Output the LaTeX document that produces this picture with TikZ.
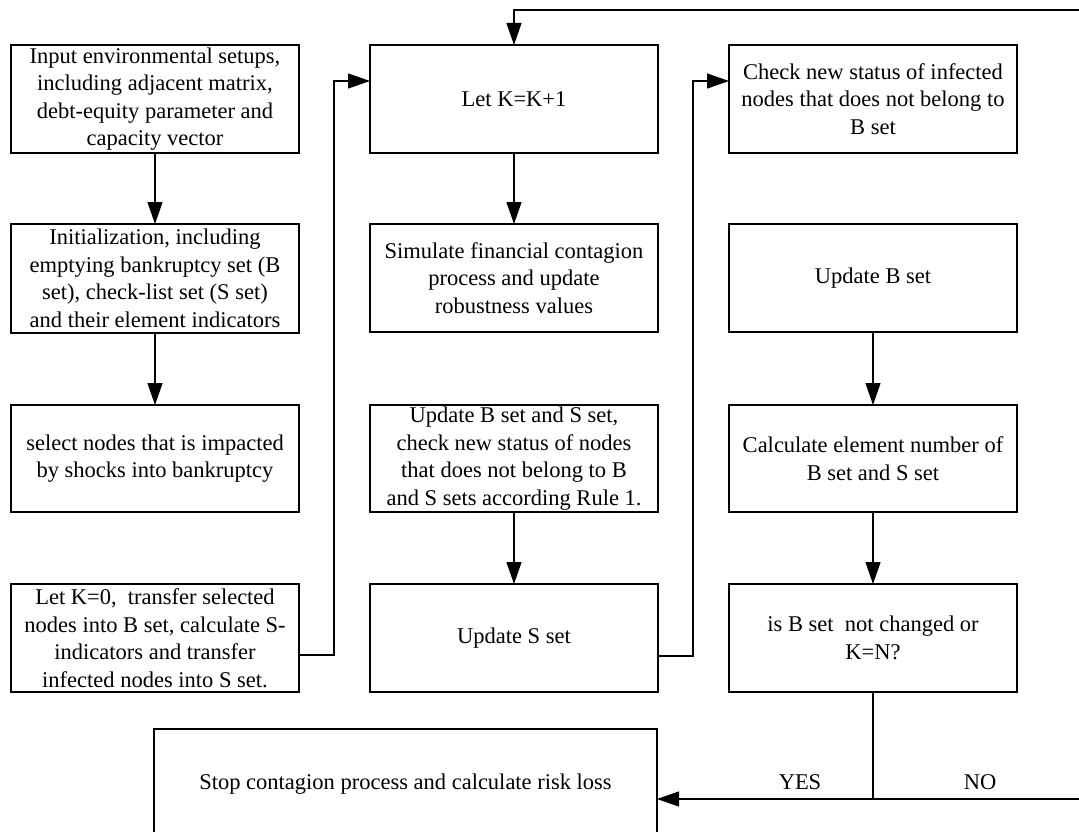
\documentclass[tikz,border=0pt]{standalone}
\usepackage{fontspec}
\setmainfont{Liberation Serif}
\usetikzlibrary{arrows.meta}
\begin{document}
\begin{tikzpicture}[x=1pt,y=-1pt,
  box/.style={draw, line width=1.2pt, minimum width=288pt, inner sep=0pt, outer sep=0pt,
    align=center, anchor=north west, font=\fontsize{22.5pt}{27.5pt}\selectfont},
  lbl/.style={font=\fontsize{22.5pt}{27.5pt}\selectfont},
  conn/.style={line width=1.2pt},
  arr/.style={conn, -{Triangle[length=22pt,width=15pt]}}]
\useasboundingbox (0,0) rectangle (1079,832);
% column 1
\node[box, minimum height=108pt] (a1) at (11,45) {Input environmental setups,\\including adjacent matrix,\\debt-equity parameter and\\capacity vector};
\node[box, minimum height=109pt] (a2) at (11,224) {Initialization, including\\emptying bankruptcy set (B\\set), check-list set (S set)\\and their element indicators};
\node[box, minimum height=107pt] (a3) at (11,405) {select nodes that is impacted\\by shocks into bankruptcy};
\node[box, minimum height=108pt] (a4) at (11,584) {Let K=0,\ \ transfer selected\\nodes into B set, calculate S-\\indicators and transfer\\infected nodes into S set.};
% column 2
\node[box, minimum height=108pt] (b1) at (370,45) {Let K=K+1};
\node[box, minimum height=108pt] (b2) at (370,224) {Simulate financial contagion\\process and update\\robustness values};
\node[box, minimum height=107pt] (b3) at (370,405) {Update B set and S set,\\check new status of nodes\\that does not belong to B\\and S sets according Rule 1.};
\node[box, minimum height=108pt] (b4) at (370,584) {Update S set};
% column 3
\node[box, minimum height=108pt] (c1) at (729,45) {Check new status of infected\\nodes that does not belong to\\B set};
\node[box, minimum height=108pt] (c2) at (729,224) {Update B set};
\node[box, minimum height=107pt] (c3) at (729,405) {Calculate element number of\\B set and S set};
\node[box, minimum height=108pt] (c4) at (729,584) {is B set\ \ not changed or\\K=N?};
% bottom
\node[box, minimum width=503pt, minimum height=111pt] (e) at (154,729) {Stop contagion process and calculate risk loss};
\node[lbl] (yes) at (800,782) {YES};
\node[lbl] (no) at (980,782) {NO};
% connectors
\draw[arr] (a1.south) -- (a2.north);
\draw[arr] (a2.south) -- (a3.north);
\draw[arr] (b1.south) -- (b2.north);
\draw[arr] (b3.south) -- (b4.north);
\draw[arr] (c2.south) -- (c3.north);
\draw[arr] (c3.south) -- (c4.north);
\draw[arr] ([yshift=-17pt]a4.east) -| ([xshift=-36pt,yshift=18pt]b1.west) -- ([yshift=18pt]b1.west);
\draw[arr] ([yshift=-18pt]b4.east) -| ([xshift=-36pt,yshift=18pt]c1.west) -- ([yshift=18pt]c1.west);
\coordinate (rr) at (1084,799);
\coordinate (top) at (1084,10);
\coordinate (j) at (c4.south |- rr);
\draw[conn] (c4.south) -- (j);
\draw[arr] (rr) -- (e.east |- rr);
\draw[arr] (rr) -- (top) -| (b1.north);
\end{tikzpicture}
\end{document}
